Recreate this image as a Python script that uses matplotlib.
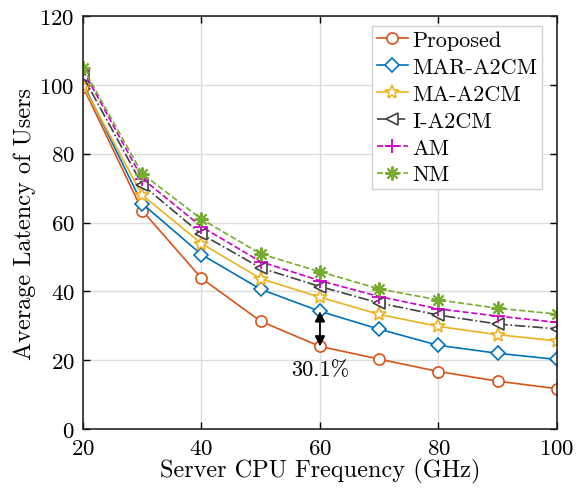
import matplotlib
matplotlib.use("Agg")
import matplotlib.pyplot as plt

plt.rcParams['font.family'] = ['cmr10', 'DejaVu Serif']
plt.rcParams['mathtext.fontset'] = 'cm'
plt.rcParams['axes.unicode_minus'] = False
plt.rcParams['axes.formatter.use_mathtext'] = True

freq = [20, 30, 40, 50, 60, 70, 80, 90, 100]
proposed = [99.5, 63.5, 43.8, 31.3, 24.0, 20.3, 16.7, 13.9, 11.7]
mar_a2cm = [100.5, 65.5, 50.7, 40.6, 34.2, 29.0, 24.3, 22.0, 20.2]
ma_a2cm = [99.8, 68.0, 53.9, 43.7, 38.3, 33.3, 29.8, 27.4, 25.6]
i_a2cm = [102.5, 71.0, 56.6, 46.8, 41.4, 36.6, 33.1, 30.5, 29.1]
am = [104.3, 72.8, 58.8, 48.6, 43.1, 38.5, 34.9, 32.8, 31.0]
nm = [105.0, 74.2, 61.0, 50.9, 45.7, 40.7, 37.5, 35.1, 33.4]
labels = ['Proposed', 'MAR-A2CM', 'MA-A2CM', 'I-A2CM', 'AM', 'NM']
x_ticks = [20, 40, 60, 80, 100]
y_ticks = [0, 20, 40, 60, 80, 100, 120]
annot_x = 60
annot_text = '30.1%'

fig = plt.figure(figsize=(5.76, 4.89), dpi=100)
ax = fig.add_axes([0.144, 0.1207, 0.823, 0.8443])

series = [proposed, mar_a2cm, ma_a2cm, i_a2cm, am, nm]
styles = [
    dict(color='#D95319', ls='-', marker='o', ms=8, mfc='white', mew=1.2),
    dict(color='#0072BD', ls='-', marker='D', ms=7, mfc='white', mew=1.2),
    dict(color='#EDB120', ls='-', marker='*', ms=10, mfc='white', mew=1.2),
    dict(color='#404040', ls='-.', marker='<', ms=8, mfc='white', mew=1.2),
    dict(color='#CC00CC', ls='--', marker='+', ms=10, mfc='none', mew=1.3),
    dict(color='#77AC30', ls='--', marker=(8, 2, 0), ms=10, mfc='none', mew=1.5),
]
for vals, lab, st in zip(series, labels, styles):
    ax.plot(freq, vals, label=lab, lw=1.2, color=st['color'], ls=st['ls'],
            marker=st['marker'], markersize=st['ms'], markerfacecolor=st['mfc'],
            markeredgecolor=st['color'], markeredgewidth=st['mew'])

i = freq.index(annot_x)
ax.annotate('', xy=(annot_x, proposed[i]), xytext=(annot_x, mar_a2cm[i]),
            arrowprops=dict(arrowstyle='<|-|>', color='black', lw=1.3,
                            mutation_scale=15, shrinkA=0, shrinkB=0))
ax.text(annot_x, 17.4, annot_text, ha='center', va='center', fontsize=16)

ax.set_xlim(20, 100)
ax.set_ylim(0, 120)
ax.set_xticks(x_ticks)
ax.set_yticks(y_ticks)
ax.grid(True, color='#dcdcdc', lw=1.0)
ax.set_axisbelow(True)
ax.tick_params(direction='in', top=True, right=True, labelsize=16.5, length=5, width=1.0)
ax.tick_params(axis='x', pad=7)
ax.tick_params(axis='y', pad=6)
for s in ax.spines.values():
    s.set_linewidth(1.2)
    s.set_color('#262626')
ax.set_xlabel('Server CPU Frequency (GHz)', fontsize=17.5, labelpad=0)
ax.set_ylabel('Average Latency of Users', fontsize=17.5, labelpad=2)

leg = ax.legend(loc='upper right', fontsize=16, fancybox=False, framealpha=1,
                edgecolor='#d0d0d0', handlelength=1.4, handletextpad=0.2,
                labelspacing=0.33, borderpad=0.2,
                bbox_to_anchor=(0.968, 0.976), borderaxespad=0)
leg.get_frame().set_linewidth(1.0)

fig.savefig('out.png', dpi=100)
